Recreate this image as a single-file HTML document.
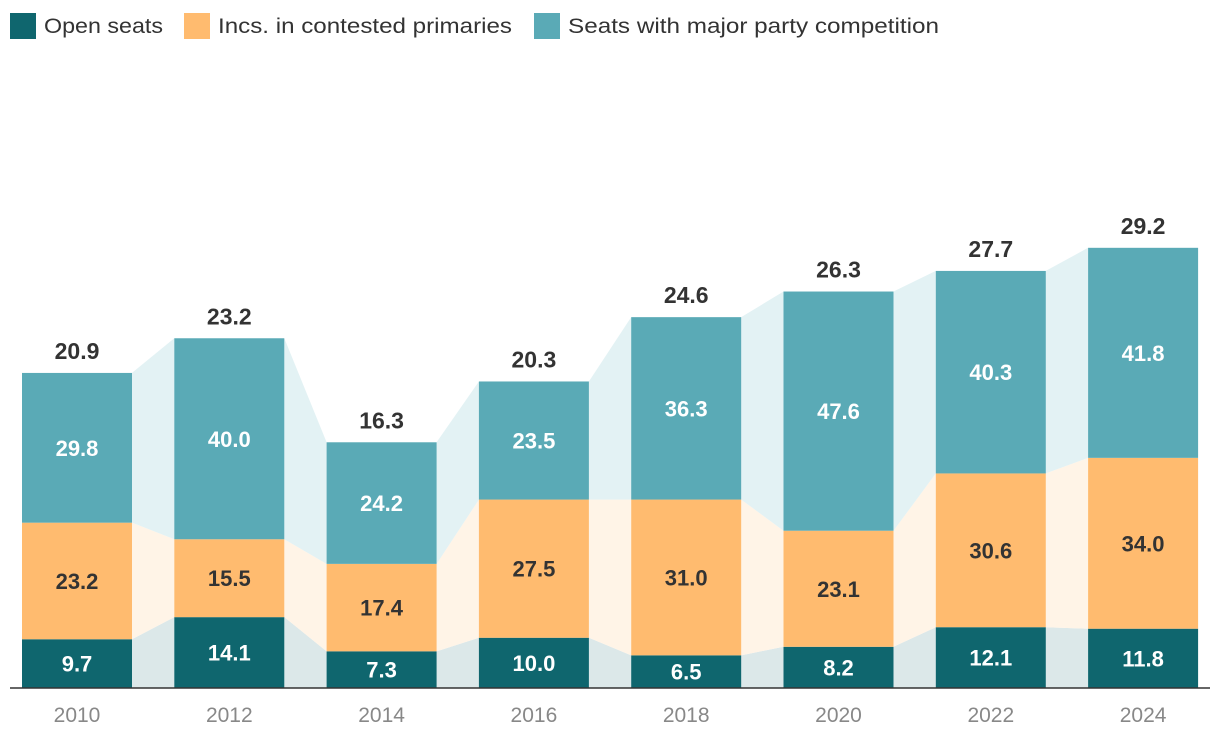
<!DOCTYPE html>
<html><head><meta charset="utf-8"><style>
body{margin:0;background:#fff;font-family:"Liberation Sans",sans-serif;}
svg{display:block}
</style></head><body>
<svg id="chart" width="1220" height="746">
<g id="legend">
<g><rect x="10" y="13" width="26" height="26" fill="#0f666e"/><text x="44" y="33" font-size="21" fill="#333" textLength="119" lengthAdjust="spacingAndGlyphs">Open seats</text></g>
<g><rect x="184" y="13" width="26" height="26" fill="#ffbb6f"/><text x="218" y="33" font-size="21" fill="#333" textLength="294" lengthAdjust="spacingAndGlyphs">Incs. in contested primaries</text></g>
<g><rect x="534" y="13" width="26" height="26" fill="#5aaab6"/><text x="568" y="33" font-size="21" fill="#333" textLength="371" lengthAdjust="spacingAndGlyphs">Seats with major party competition</text></g>
</g>
<g id="connectors"></g>
<g id="bars"></g>
<line x1="10" y1="688" x2="1210" y2="688" stroke="#333" stroke-width="1.5"/>
<g id="xlabels"></g>
</svg>
<script>
const years=["2010","2012","2014","2016","2018","2020","2022","2024"];
const openSeats=[9.7,14.1,7.3,10.0,6.5,8.2,12.1,11.8];
const contested=[23.2,15.5,17.4,27.5,31.0,23.1,30.6,34.0];
const majorParty=[29.8,40.0,24.2,23.5,36.3,47.6,40.3,41.8];
const totals=[20.9,23.2,16.3,20.3,24.6,26.3,27.7,29.2];
const NS="http://www.w3.org/2000/svg";
const base=688, k=5.025, x0=22, step=152.3, bw=110;
const y=v=>base-v*k;
const xs=i=>x0+i*step;
const series=[[openSeats,"#0f666e","#dce8e9","open-seats"],[contested,"#ffbb6f","#fff4e7","contested"],[majorParty,"#5aaab6","#e3f2f4","major-party"]];
function mk(tag,attrs,parent){const e=document.createElementNS(NS,tag);for(const a in attrs)e.setAttribute(a,attrs[a]);parent.appendChild(e);return e;}
const conn=document.getElementById("connectors"),bars=document.getElementById("bars"),xl=document.getElementById("xlabels");
const cum=years.map(()=>0);
series.forEach(([vals,col,light,nm])=>{
  const lo=cum.slice();
  vals.forEach((v,i)=>cum[i]+=v);
  for(let i=0;i<years.length-1;i++){
    const a=xs(i)+bw,b=xs(i+1);
    const p=mk("polygon",{points:`${a},${y(lo[i])} ${a},${y(cum[i])} ${b},${y(cum[i+1])} ${b},${y(lo[i+1])}`,fill:light},conn);
    
    
  }
  vals.forEach((v,i)=>{
    const r=mk("rect",{x:xs(i),y:y(cum[i]),width:bw,height:v*k,fill:col},bars);
    
    
    const t=mk("text",{x:xs(i)+bw/2,y:y(lo[i]+v/2)+8,"text-anchor":"middle","font-size":"22","font-weight":"bold",fill:nm==="contested"?"#333":"#fff"},bars);
    t.textContent=v.toFixed(1);
    
    
  });
});
years.forEach((yr,i)=>{
  const t=mk("text",{x:xs(i)+bw/2,y:y(cum[i])-14,"text-anchor":"middle","font-size":"23","font-weight":"bold",fill:"#333"},bars);
  t.textContent=totals[i].toFixed(1);
  
  
  const l=mk("text",{x:xs(i)+bw/2,y:722,"text-anchor":"middle","font-size":"21",fill:"#888"},xl);
  l.textContent=yr;
  
  
});
</script>
</body></html>
